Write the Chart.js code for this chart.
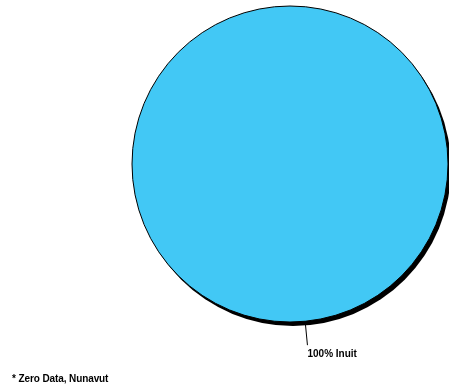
<!DOCTYPE html>
<html>
<head>
<meta charset="utf-8">
<script src="https://cdn.jsdelivr.net/npm/chart.js@4/dist/chart.umd.min.js"></script>
<style>
  html, body { margin: 0; padding: 0; background: #fff; }
  #wrap { position: relative; width: 449px; height: 387px; }
  #note {
    position: absolute; left: 12px; top: 373px;
    font: bold 10px "Liberation Sans", Arial, sans-serif; color: #000;
    letter-spacing: -0.1px;
  }
</style>
</head>
<body>
<div id="wrap">
  <canvas id="pie" width="449" height="387"></canvas>
  <div id="note">* Zero Data, Nunavut</div>
</div>
<script>
// ─── Data ────────────────────────────────────────────────────────────────────
const CATEGORIES = ["Inuit"];
const VALUES     = [100];
const COLORS     = ["#42c8f5"];

// ─── Plugins ─────────────────────────────────────────────────────────────────
const shadowPlugin = {
    id: "pieShadow",
    beforeDatasetsDraw(chart) {
        const arc = chart.getDatasetMeta(0).data[0];
        const c = chart.ctx;
        c.save();
        c.beginPath();
        c.arc(arc.x + 3, arc.y + 4, arc.outerRadius, 0, Math.PI * 2);
        c.fillStyle = "#000";
        c.fill();
        c.restore();
    }
};

// outline + leader lines + labels
const labelPlugin = {
    id: "sliceLabels",
    afterDatasetsDraw(chart) {
        const c = chart.ctx;
        const total = VALUES.reduce((a, b) => a + b, 0);
        const first = chart.getDatasetMeta(0).data[0];
        c.save();
        c.beginPath();
        c.arc(first.x, first.y, first.outerRadius, 0, Math.PI * 2);
        c.strokeStyle = "#000";
        c.lineWidth = 1;
        c.stroke();
        c.restore();

        chart.getDatasetMeta(0).data.forEach((arc, i) => {
            const mid = (arc.startAngle + arc.endAngle) / 2;
            const r0 = arc.outerRadius;
            const r1 = arc.outerRadius + 24;
            const x1 = arc.x + Math.cos(mid) * r1;
            const y1 = arc.y + Math.sin(mid) * r1;
            c.save();
            c.beginPath();
            c.moveTo(arc.x + Math.cos(mid) * r0, arc.y + Math.sin(mid) * r0);
            c.lineTo(x1, y1);
            c.strokeStyle = "#000";
            c.lineWidth = 1;
            c.stroke();
            c.font = "bold 10px 'Liberation Sans', Arial, sans-serif";
            c.fillStyle = "#000";
            c.textBaseline = "alphabetic";
            c.fillText(Math.round(VALUES[i] / total * 100) + "% " + CATEGORIES[i], x1, y1 + 12);
            c.restore();
        });
    }
};

// ─── Chart ───────────────────────────────────────────────────────────────────
new Chart(document.getElementById("pie"), {
    type: "pie",
    plugins: [shadowPlugin, labelPlugin],
    data: {
        labels: CATEGORIES,
        datasets: [{
            data: VALUES,
            backgroundColor: COLORS,
            borderWidth: 0
        }]
    },
    options: {
        responsive: false,
        animation: false,
        rotation: -5.5,
        layout: { padding: { left: 132, right: 1, top: 6, bottom: 65 } },
        plugins: {
            legend: { display: false },
            tooltip: { enabled: false }
        }
    }
});
</script>
</body>
</html>
